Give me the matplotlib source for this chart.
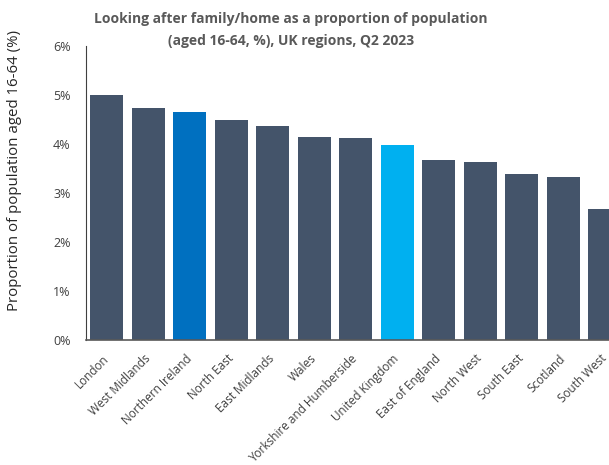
import matplotlib.pyplot as plt
from matplotlib.ticker import FuncFormatter

regions = ['London', 'West Midlands', 'Northern Ireland', 'North East', 'East Midlands',
           'Wales', 'Yorkshire and Humberside', 'United Kingdom', 'East of England',
           'North West', 'South East', 'Scotland', 'South West']
values = [5.00, 4.73, 4.65, 4.49, 4.37, 4.14, 4.12, 3.98, 3.67, 3.63, 3.39, 3.33, 2.67]
highlight = {'Northern Ireland': '#0070C0', 'United Kingdom': '#00B0F0'}
base_color = '#44546A'

plt.rcParams['font.family'] = ['Open Sans', 'DejaVu Sans']

fig = plt.figure(figsize=(6.09, 4.65), dpi=100)
ax = fig.add_axes([0.141, 0.269, 0.886, 0.632])

colors = [highlight.get(r, base_color) for r in regions]
ax.bar(range(len(regions)), values, width=0.8, color=colors)

ax.set_xlim(-0.5, len(regions) - 0.5)
ax.set_ylim(0, 6)
ax.set_yticks(range(0, 7))
ax.yaxis.set_major_formatter(FuncFormatter(lambda v, p: f'{v:.0f}%'))
ax.set_xticks(range(len(regions)))
ax.set_xticklabels(regions, rotation=45, ha='right', va='center', rotation_mode='anchor')

ax.tick_params(axis='both', length=0, labelsize=8.5, colors='#404040')
ax.tick_params(axis='y', pad=11, labelsize=9)
ax.tick_params(axis='x', pad=12)

for s in ['top', 'right']:
    ax.spines[s].set_visible(False)
ax.spines['left'].set_color('#404040')
ax.spines['bottom'].set_color('#595959')
ax.spines['bottom'].set_linewidth(1.2)
ax.spines['left'].set_linewidth(0.8)

ax.set_ylabel('Proportion of population aged 16-64 (%)', fontsize=10.8, color='#262626')
ax.yaxis.set_label_coords(-0.118, 0.578)

fig.text(0.478, 0.897, 'Looking after family/home as a proportion of population\n(aged 16-64, %), UK regions, Q2 2023',
         ha='center', va='bottom', fontsize=10, fontweight='bold', color='#595959', linespacing=1.75)

fig.savefig('out.png', dpi=100)
